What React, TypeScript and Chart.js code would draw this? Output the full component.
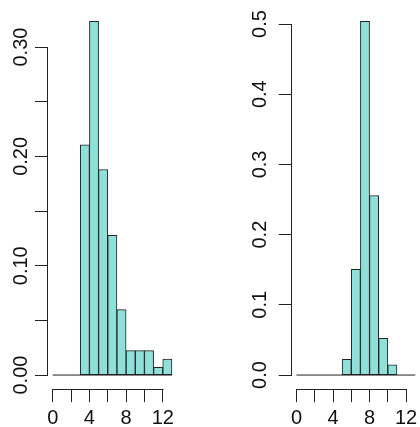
import React, { useEffect, useRef } from "react";
import { Chart, registerables } from "chart.js";

Chart.register(...registerables);

// ---- data ----
const breaks = [0, 1, 2, 3, 4, 5, 6, 7, 8, 9, 10, 11, 12, 13];
const leftDensity = [0, 0, 0, 0.2106, 0.3235, 0.188, 0.1279, 0.0598, 0.0223, 0.0223, 0.0223, 0.007, 0.0147];
const rightDensity = [0, 0, 0, 0, 0, 0.0224, 0.1507, 0.5038, 0.2557, 0.0523, 0.0147, 0, 0];
const xTicks = [0, 2, 4, 6, 8, 10, 12];
const xLabelTicks = [0, 4, 8, 12];
const leftYTicks = [0, 0.05, 0.1, 0.15, 0.2, 0.25, 0.3];
const leftYLabelTicks = [0, 0.1, 0.2, 0.3];
const rightYTicks = [0, 0.1, 0.2, 0.3, 0.4, 0.5];
const rightYLabelTicks = [0, 0.1, 0.2, 0.3, 0.4, 0.5];

const FILL = "#8fe0d8";
const EDGE = "#222222";
const TEXT = "#111111";
const FONT = { family: "'Liberation Sans', Arial, Helvetica, sans-serif", size: 20 };

const has = (arr: number[], v: number) => arr.some((t) => Math.abs(t - v) < 1e-9);

const axisLinePlugin = {
  id: "rAxisLines",
  afterDraw(chart: any) {
    const { ctx, chartArea, scales } = chart;
    const xs = scales.x;
    const ys = scales.y;
    const xt = xs.ticks.map((t: any) => t.value);
    const yt = ys.ticks.map((t: any) => t.value);
    ctx.save();
    ctx.strokeStyle = EDGE;
    ctx.lineWidth = 1;
    ctx.beginPath();
    const by = Math.round(chartArea.bottom) + 0.5;
    ctx.moveTo(Math.round(xs.getPixelForValue(xt[0])) + 0.5 - 0.5, by);
    ctx.lineTo(Math.round(xs.getPixelForValue(xt[xt.length - 1])) + 0.5, by);
    const lx = Math.round(chartArea.left) - 0.5;
    ctx.moveTo(lx, Math.round(ys.getPixelForValue(yt[0])) + 0.5);
    ctx.lineTo(lx, Math.round(ys.getPixelForValue(yt[yt.length - 1])) + 0.5 - 0.5);
    ctx.stroke();
    ctx.restore();
  },
};

type PanelProps = {
  density: number[];
  yTicks: number[];
  yLabelTicks: number[];
  decimals: number;
  left: number;
  width: number;
  yAxisWidth: number;
  padRight: number;
  yPad: number;
};

function Panel(p: PanelProps) {
  const ref = useRef<HTMLCanvasElement | null>(null);
  useEffect(() => {
    if (!ref.current) return;
    const ymax = Math.max(...p.density);
    const xr = breaks[breaks.length - 1] - breaks[0];
    const chart = new Chart(ref.current, {
      type: "bar",
      data: {
        datasets: [
          {
            type: "bar",
            data: p.density.map((d, i) => ({ x: (breaks[i] + breaks[i + 1]) / 2, y: d })),
            backgroundColor: FILL,
            borderColor: EDGE,
            borderWidth: 1,
            borderSkipped: false,
            barPercentage: 1,
            categoryPercentage: 1,
            grouped: false,
          } as any,
          {
            type: "line",
            data: [
              { x: breaks[0], y: 0 },
              { x: breaks[breaks.length - 1], y: 0 },
            ],
            borderColor: EDGE,
            borderWidth: 1,
            pointRadius: 0,
          } as any,
        ],
      },
      options: {
        responsive: false,
        animation: false,
        devicePixelRatio: 1,
        layout: { padding: { left: 0, right: p.padRight, top: 7.2, bottom: 0 } },
        plugins: { legend: { display: false }, tooltip: { enabled: false } },
        scales: {
          x: {
            type: "linear",
            offset: false,
            min: breaks[0] - 0.04 * xr,
            max: breaks[breaks.length - 1] + 0.04 * xr,
            afterBuildTicks: (s: any) => {
              s.ticks = xTicks.map((v) => ({ value: v }));
            },
            afterFit: (s: any) => {
              s.height = 37.8;
              s.paddingLeft = 0;
              s.paddingRight = 0;
            },
            border: { display: false },
            grid: { offset: false, drawOnChartArea: false, drawTicks: true, tickLength: 13, color: EDGE, lineWidth: 1 },
            ticks: {
              autoSkip: false,
              maxRotation: 0,
              minRotation: 0,
              padding: 4.6,
              font: FONT,
              color: TEXT,
              callback: (v: any) => (has(xLabelTicks, Number(v)) ? String(v) : ""),
            },
          },
          y: {
            type: "linear",
            min: -0.04 * ymax,
            max: 1.04 * ymax,
            afterBuildTicks: (s: any) => {
              s.ticks = p.yTicks.map((v) => ({ value: v }));
            },
            afterFit: (s: any) => {
              s.width = p.yAxisWidth;
              s.paddingTop = 0;
              s.paddingBottom = 0;
            },
            border: { display: false },
            grid: { offset: false, drawOnChartArea: false, drawTicks: true, tickLength: 13, color: EDGE, lineWidth: 1 },
            ticks: {
              autoSkip: false,
              minRotation: 90,
              maxRotation: 90,
              crossAlign: "center",
              padding: p.yPad,
              font: FONT,
              color: TEXT,
              callback: (v: any) => (has(p.yLabelTicks, Number(v)) ? Number(v).toFixed(p.decimals) : ""),
            },
          },
        },
      } as any,
      plugins: [axisLinePlugin],
    });
    return () => chart.destroy();
  }, []);
  return (
    <canvas
      ref={ref}
      width={p.width}
      height={427}
      style={{ position: "absolute", left: p.left, top: 0, width: p.width, height: 427 }}
    />
  );
}

export default function App() {
  return (
    <div style={{ position: "fixed", left: 0, top: 0, width: 420, height: 427, background: "#ffffff", overflow: "hidden" }}>
      <Panel
        density={leftDensity}
        yTicks={leftYTicks}
        yLabelTicks={leftYLabelTicks}
        decimals={2}
        left={0}
        width={210}
        yAxisWidth={48}
        padRight={33.3}
        yPad={-6}
      />
      <Panel
        density={rightDensity}
        yTicks={rightYTicks}
        yLabelTicks={rightYLabelTicks}
        decimals={1}
        left={210}
        width={210}
        yAxisWidth={81.7}
        padRight={0}
        yPad={4.8}
      />
    </div>
  );
}
